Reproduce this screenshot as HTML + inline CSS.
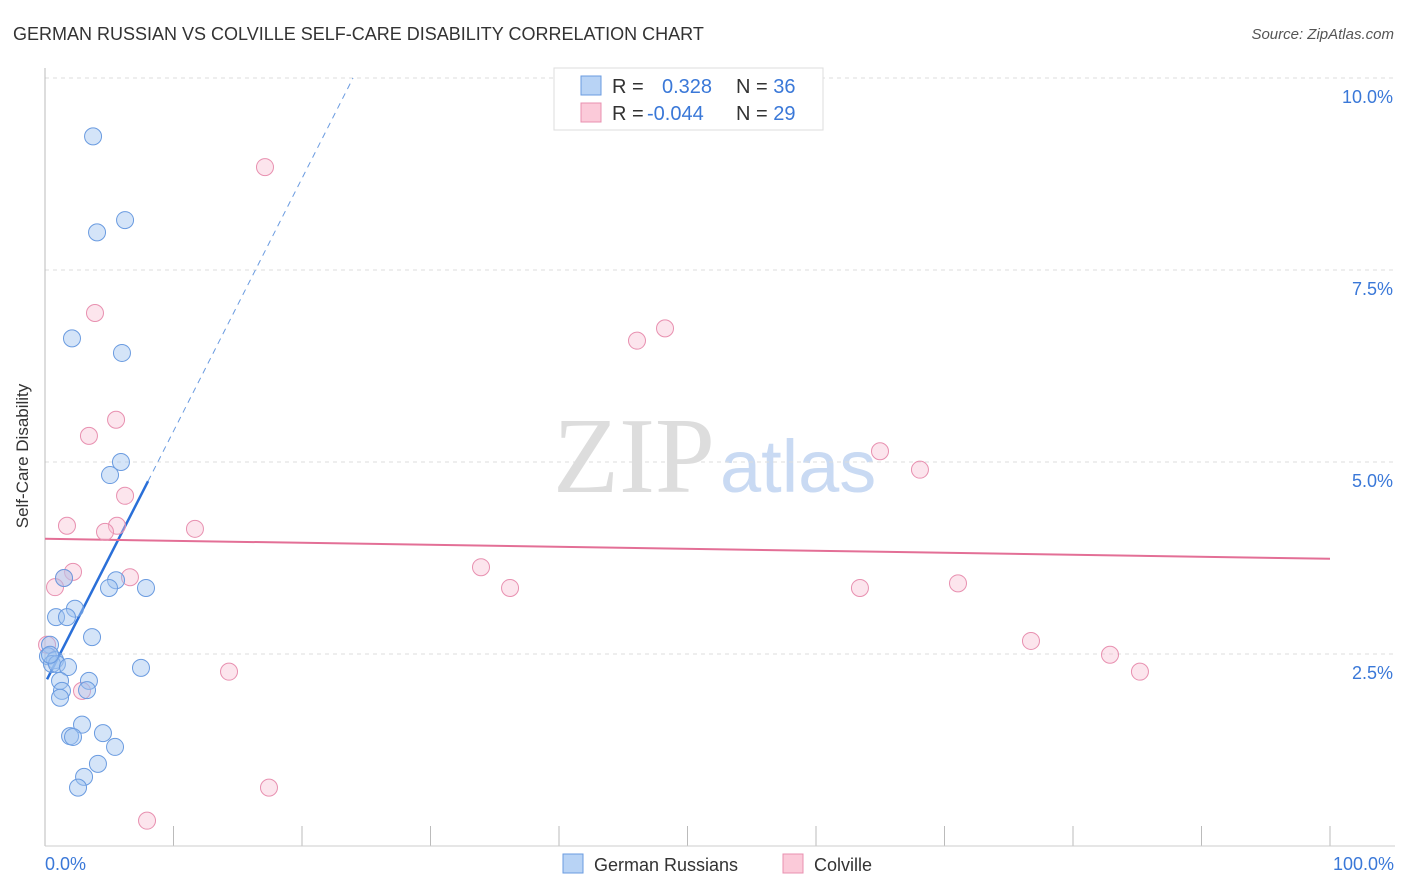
<!DOCTYPE html>
<html><head><meta charset="utf-8"><style>
body{margin:0;background:#fff;font-family:"Liberation Sans",sans-serif}
svg{display:block}
</style></head><body>
<svg id="chart" width="1406" height="892" xmlns="http://www.w3.org/2000/svg">
<text x="13" y="40" font-size="18" fill="#333">GERMAN RUSSIAN VS COLVILLE SELF-CARE DISABILITY CORRELATION CHART</text>
<text x="1394" y="39" font-size="15" fill="#555" text-anchor="end" font-style="italic">Source: ZipAtlas.com</text>
<g>
<text x="553" y="492" font-size="108" font-family="Liberation Serif,serif" fill="#ddd">ZIP</text>
<text x="720" y="492" font-size="74" fill="#c9daf3">atlas</text>
</g>
<g id="grid"></g>
<line x1="45" y1="68" x2="45" y2="846" stroke="#bbb"/>
<line x1="45" y1="846" x2="1395" y2="846" stroke="#ccc"/>
<text x="28" y="456" font-size="17" fill="#333" transform="rotate(-90 28 456)" text-anchor="middle">Self-Care Disability</text>
<text x="45" y="870" font-size="18" fill="#3a78d8">0.0%</text>
<text x="1394" y="870" font-size="18" fill="#3a78d8" text-anchor="end">100.0%</text>
<g id="lines"></g>
<g id="points"></g>
<g>
<rect x="554" y="68" width="269" height="62" fill="#fff" stroke="#ddd"/>
<rect x="581" y="76" width="20" height="19" fill="#b8d3f5" stroke="#6a9be0"/>
<rect x="581" y="103" width="20" height="19" fill="#fbcad9" stroke="#e890b0"/>
<text x="612" y="93" font-size="20" fill="#333">R = <tspan x="662" fill="#3a78d8">0.328</tspan><tspan x="736" fill="#333">N = </tspan><tspan fill="#3a78d8">36</tspan></text>
<text x="612" y="120" font-size="20" fill="#333">R = <tspan x="647" fill="#3a78d8">-0.044</tspan><tspan x="736" fill="#333">N = </tspan><tspan fill="#3a78d8">29</tspan></text>
</g>
<g>
<rect x="563" y="854" width="20" height="19" fill="#b8d3f5" stroke="#6a9be0"/>
<text x="594" y="871" font-size="18" fill="#333">German Russians</text>
<rect x="783" y="854" width="20" height="19" fill="#fbcad9" stroke="#e890b0"/>
<text x="814" y="871" font-size="18" fill="#333">Colville</text>
</g>
</svg>
<script>
const yTicks=[2.5,5.0,7.5,10.0];
const xTicks=[0,10,20,30,40,50,60,70,80,90,100];
const blueX=[3.74,6.23,4.05,2.10,5.99,5.91,5.06,5.53,1.48,4.98,7.86,2.33,0.86,1.71,3.66,0.39,0.23,0.78,0.54,0.93,1.79,7.47,1.17,3.42,1.32,3.27,1.17,2.88,1.95,2.18,4.51,5.45,4.12,3.04,2.57,0.39];
const blueY=[9.24,8.15,7.99,6.61,6.42,5.00,4.83,3.46,3.49,3.36,3.36,3.09,2.98,2.98,2.72,2.62,2.47,2.42,2.37,2.37,2.33,2.32,2.15,2.15,2.02,2.03,1.93,1.58,1.43,1.42,1.47,1.29,1.07,0.90,0.76,2.49];
const pinkX=[17.12,3.89,46.07,48.25,5.53,3.42,64.98,68.09,6.23,1.71,5.60,11.67,4.67,2.18,1.48,6.61,0.78,33.93,36.19,63.42,71.05,0.16,76.73,82.88,85.21,14.32,2.88,17.43,7.94];
const pinkY=[8.84,6.94,6.58,6.74,5.55,5.34,5.14,4.90,4.56,4.17,4.17,4.13,4.09,3.57,3.49,3.50,3.37,3.63,3.36,3.36,3.42,2.62,2.67,2.49,2.27,2.27,2.02,0.76,0.33];
const blueTrend=[[0.16,2.17],[8.02,4.75]];
const blueDash=[[8.02,4.75],[23.97,10.0]];
const pinkTrend=[[0,4.00],[100,3.74]];
const NS="http://www.w3.org/2000/svg";
const sx=v=>45+v*12.85, sy=v=>846-v*76.8;
function mk(tag,attrs,parent){const e=document.createElementNS(NS,tag);for(const k in attrs)e.setAttribute(k,attrs[k]);parent.appendChild(e);return e;}
const grid=document.getElementById('grid');
yTicks.forEach(t=>{
 const l=mk('line',{x1:45,x2:1395,y1:sy(t),y2:sy(t),stroke:'#ddd','stroke-dasharray':'4 4'},grid);
 
 
 const tx=mk('text',{x:1393,y:sy(t)+25,'font-size':18,fill:'#3a78d8','text-anchor':'end'},grid);
 tx.textContent=t.toFixed(1)+'%';
 
 
});
xTicks.forEach(t=>{
 const l=mk('line',{x1:sx(t),x2:sx(t),y1:826,y2:846,stroke:'#bbb'},grid);
 
 
});
const lines=document.getElementById('lines');
let b=mk('line',{x1:sx(blueTrend[0][0]),y1:sy(blueTrend[0][1]),x2:sx(blueTrend[1][0]),y2:sy(blueTrend[1][1]),stroke:'#2a6fd8','stroke-width':2.5},lines);


let bd=mk('line',{x1:sx(blueDash[0][0]),y1:sy(blueDash[0][1]),x2:sx(blueDash[1][0]),y2:sy(blueDash[1][1]),stroke:'#6a9be0','stroke-width':1,'stroke-dasharray':'6 5'},lines);


let p=mk('line',{x1:sx(pinkTrend[0][0]),y1:sy(pinkTrend[0][1]),x2:sx(pinkTrend[1][0]),y2:sy(pinkTrend[1][1]),stroke:'#e36f96','stroke-width':2},lines);


const pts=document.getElementById('points');
pinkX.forEach((x,i)=>{
 const c=mk('circle',{cx:sx(x),cy:sy(pinkY[i]),r:8.5,fill:'rgba(248,190,210,0.4)',stroke:'#e890b0','stroke-width':1},pts);
 
 
});
blueX.forEach((x,i)=>{
 const c=mk('circle',{cx:sx(x),cy:sy(blueY[i]),r:8.5,fill:'rgba(160,196,240,0.45)',stroke:'#6a9be0','stroke-width':1},pts);
 
 
});
</script>
</body></html>
